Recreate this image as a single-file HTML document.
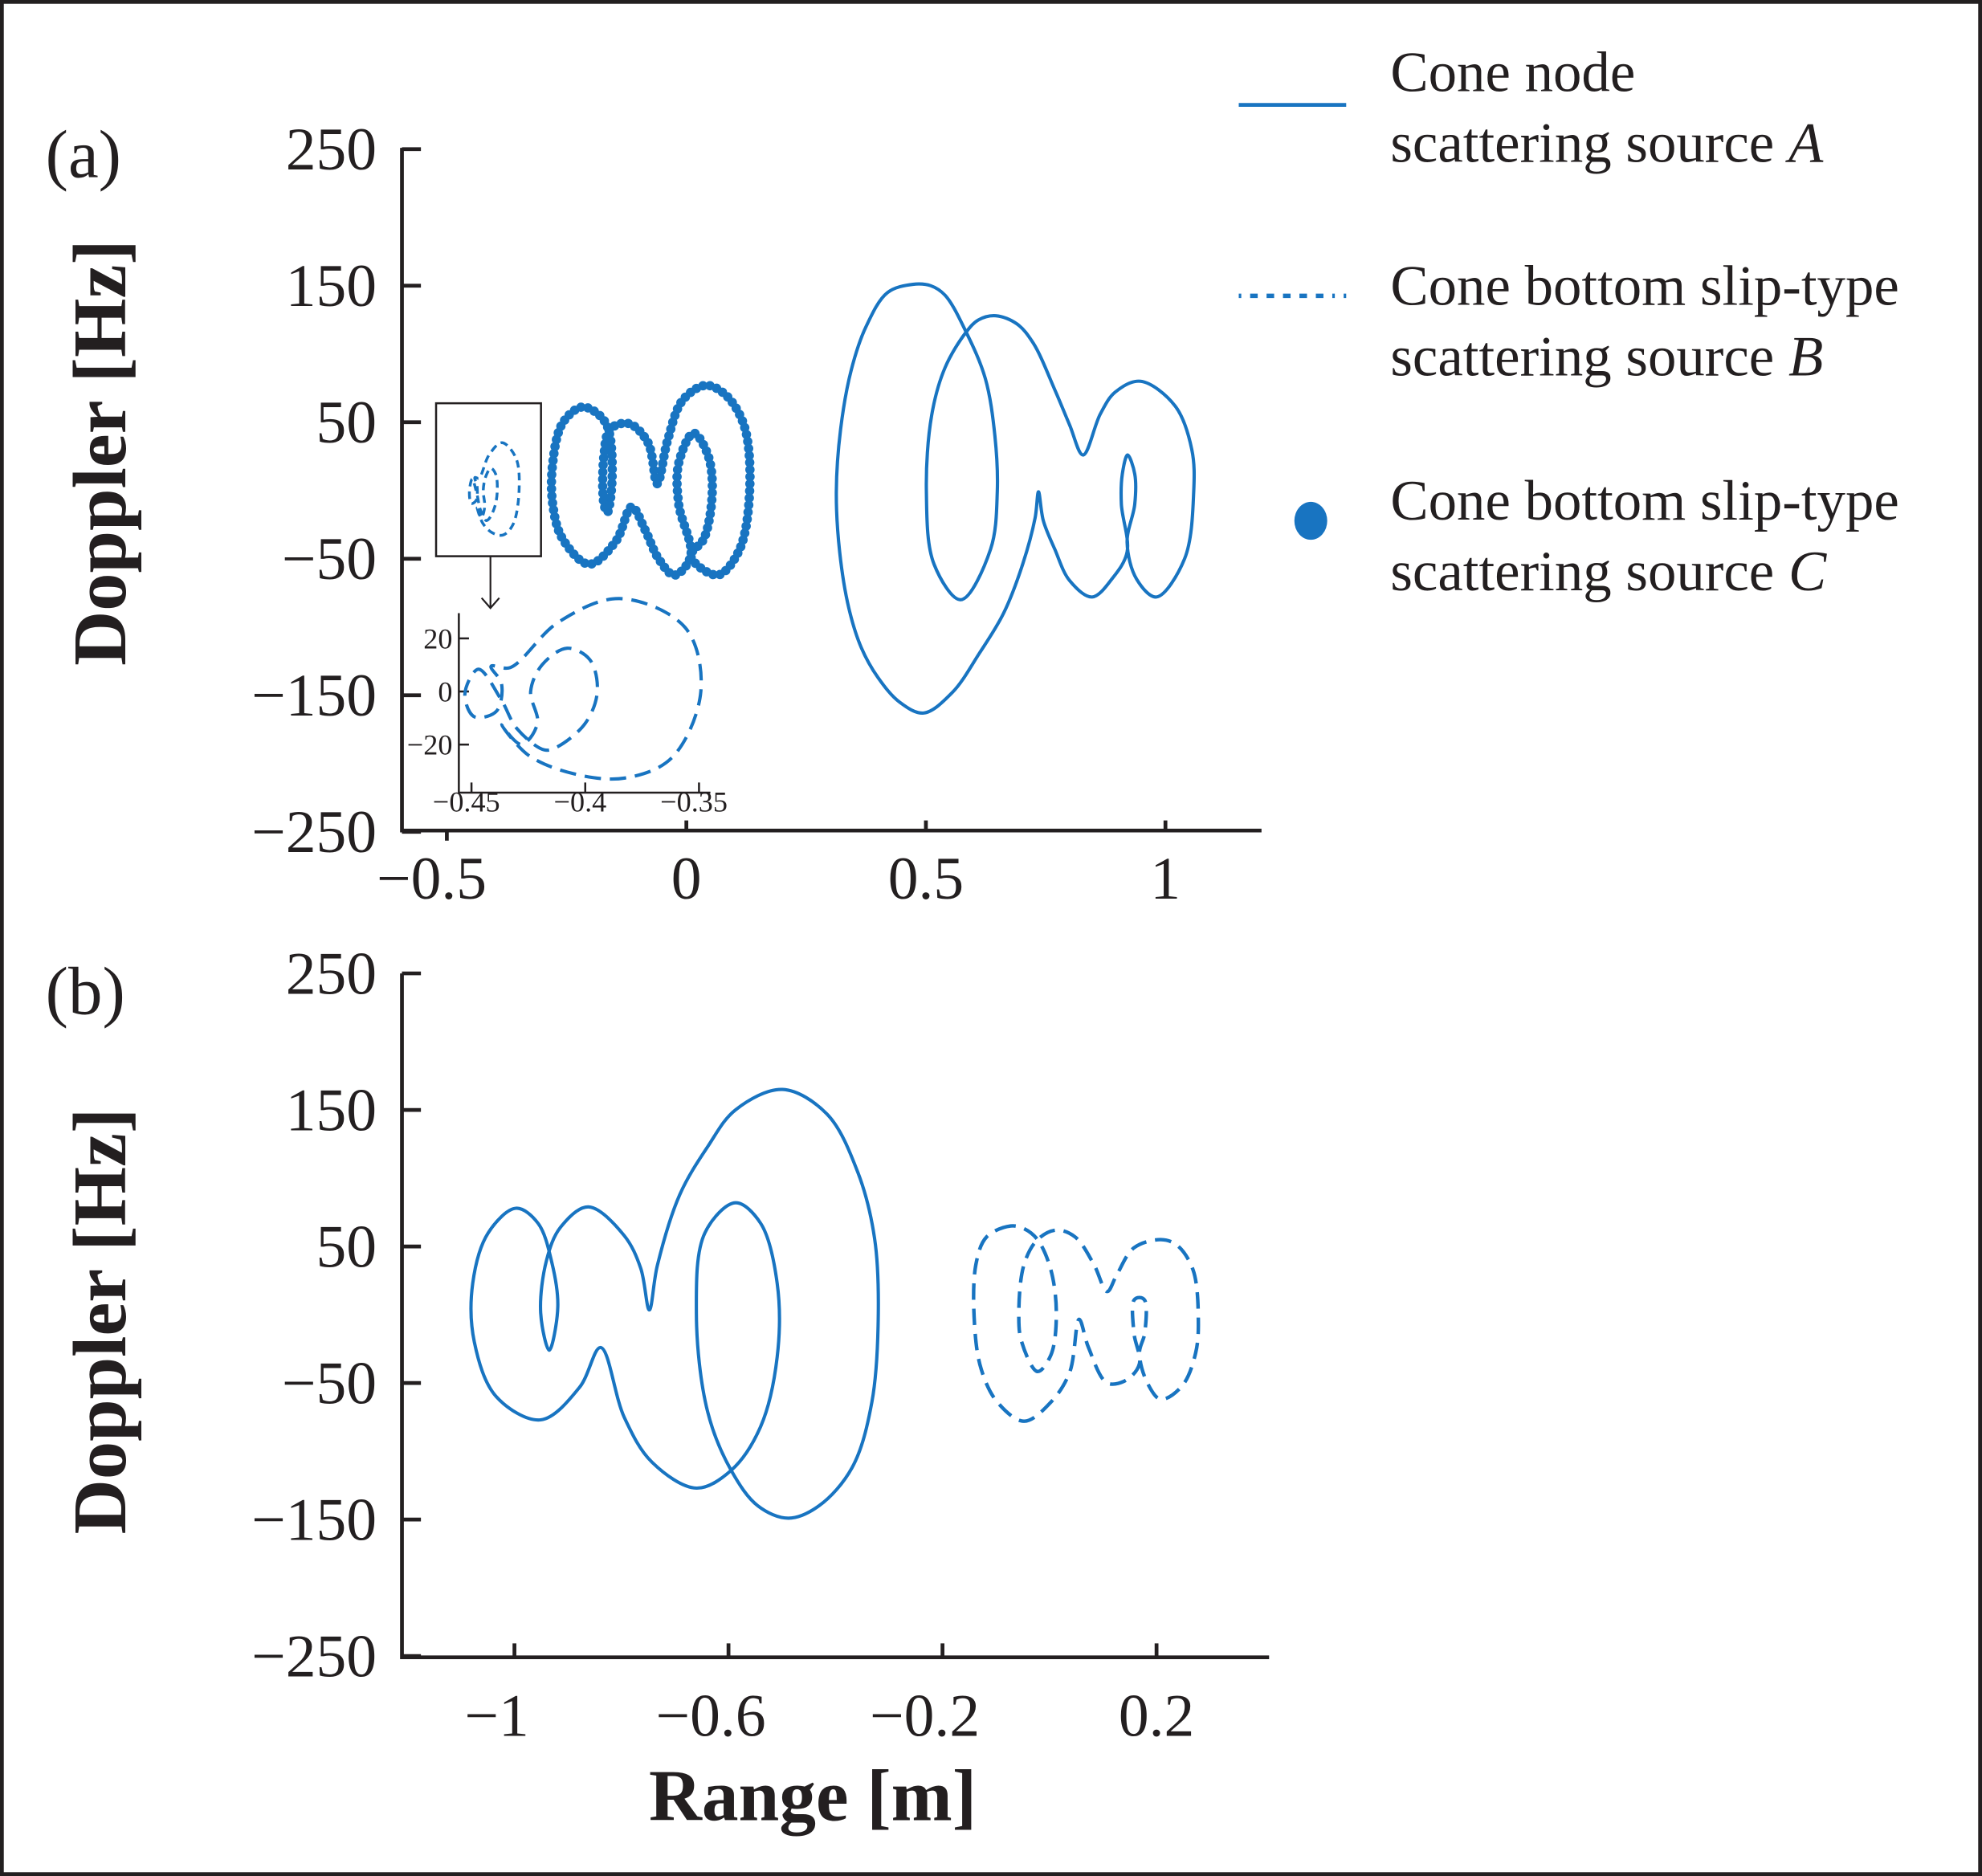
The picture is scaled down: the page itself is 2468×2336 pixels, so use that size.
<!DOCTYPE html>
<html><head><meta charset="utf-8"><style>
html,body{margin:0;padding:0;background:#fff}
svg{display:block}
text{font-family:"Liberation Serif",serif;fill:#231f20}
</style></head><body>
<svg id="chart" xmlns="http://www.w3.org/2000/svg" width="2468" height="2336" viewBox="0 0 1568 1484" preserveAspectRatio="none">
<rect x="1.5" y="1.5" width="1565" height="1481" fill="#fff" stroke="#231f20" stroke-width="3"/>
<g id="axes"></g>
<g id="marks"></g>
<g>
  <line x1="980" y1="83" x2="1065" y2="83" stroke="#1874c1" stroke-width="3"/>
  <text x="1100" y="72" font-size="45">Cone node</text>
  <text x="1100" y="128" font-size="45">scattering source <tspan font-style="italic">A</tspan></text>
  <line x1="980" y1="234" x2="1065" y2="234" stroke="#1874c1" stroke-width="3.5" stroke-dasharray="2 7 6 7 6 7 6 7 6 7 6 7"/>
  <text x="1100" y="241" font-size="45">Cone bottom slip-type</text>
  <text x="1100" y="297" font-size="45">scattering source <tspan font-style="italic">B</tspan></text>
  <ellipse cx="1037" cy="412" rx="13" ry="15" fill="#1874c1"/>
  <text x="1100" y="411" font-size="45">Cone bottom slip-type</text>
  <text x="1100" y="467" font-size="45">scattering source <tspan font-style="italic">C</tspan></text>
</g>
</svg>
<script>
// ---- data (range [m], doppler [Hz]) ----
const yTicks = [250, 150, 50, -50, -150, -250];
const xTicksA = [-0.5, 0, 0.5, 1];
const xTickLabelsA = ["\u22120.5", "0", "0.5", "1"];
const xTicksB = [-1, -0.6, -0.2, 0.2];
const xTickLabelsB = ["\u22121", "\u22120.6", "\u22120.2", "0.2"];
const insetXTicks = [-0.45, -0.4, -0.35];
const insetXTickLabels = ["\u22120.45", "\u22120.4", "\u22120.35"];
const insetYTicks = [20, 0, -20];
const insetYTickLabels = ["20", "0", "\u221220"];

const aRangeA = [0.473,0.420,0.375,0.344,0.322,0.313,0.320,0.339,0.365,0.400,0.445,0.495,0.555,0.612,0.662,0.702,0.728,0.735,0.745,0.769,0.800,0.847,0.890,0.920,0.908,0.910,0.921,0.936,0.936,0.920,0.940,0.981,1.040,1.059,1.055,1.020,0.948,0.895,0.864,0.828,0.800,0.770,0.724,0.690,0.646,0.610,0.584,0.540,0.512,0.501,0.517,0.573,0.635,0.649,0.644,0.624,0.584,0.540,0.510];
const aDopplerA = [151,145,120,88,45,-1,-45,-86,-115,-137,-155,-163,-148,-119,-90,-54,-20,-1,-22,-43,-66,-78,-64,-45,-10,12,26,12,-10,-38,-65,-78,-50,-1,30,62,80,72,56,26,48,73,108,122,128,125,116,90,55,-1,-54,-80,-43,-1,40,82,116,143,150];

const aRangeB = [-0.4368,-0.425,-0.405,-0.3826,-0.362,-0.3492,-0.356,-0.3849,-0.412,-0.433,-0.4414,-0.4368,-0.439,-0.4488,-0.4529,-0.447,-0.437,-0.430,-0.418,-0.4126,-0.400,-0.3947,-0.398,-0.408,-0.419,-0.424,-0.421,-0.428];
const aDopplerB = [-12.6,-24,-31,-32.6,-25,0,24,35,26,9,9.5,3,-7.4,-9.5,-1,8.4,-3,-14,-22,-21,-12,0,12,16.3,10,0,-12,-20];

const aRangeC = [-0.220,-0.259,-0.279,-0.279,-0.259,-0.203,-0.147,-0.114,-0.086,-0.058,-0.025,0.009,-0.016,-0.016,0.015,0.045,0.054,0.037,0.009,0.065,0.110,0.132,0.121,0.082,0.040,-0.008,-0.039,-0.061,-0.080,-0.120,-0.159,-0.172,-0.172,-0.165,-0.155,-0.165,-0.192];
const aDopplerC = [61,49,20,-10,-35,-54,-37,-12,-29,-50,-62,-48,-10,20,42,26,-1,-35,-48,-62,-44,-1,47,70,77,66,37,5,35,49,45,26,-10,-16,9,47,58];

const bRangeA = [-0.862,-0.795,-0.764,-0.748,-0.733,-0.691,-0.639,-0.587,-0.499,-0.416,-0.358,-0.327,-0.320,-0.332,-0.369,-0.431,-0.488,-0.545,-0.595,-0.639,-0.660,-0.644,-0.587,-0.540,-0.509,-0.509,-0.540,-0.595,-0.660,-0.743,-0.795,-0.839,-0.878,-0.951,-1.034,-1.075,-1.078,-1.049,-0.997,-0.956,-0.930,-0.919,-0.935,-0.951,-0.940,-0.914];
const bDopplerA = [79,58,34,3.5,36,88,123,150,165,147,104,56,1,-64,-112,-140,-149,-140,-114,-71,1,60,82,67,23,-31,-82,-114,-127,-108,-75,-24,-53,-77,-60,-20,23,60,78,67,38,5.7,-26,1.4,40,64];

const bRangeB = [-0.0725,-0.1176,-0.1375,-0.1401,-0.1276,-0.0976,-0.0475,0.0026,0.0378,0.0553,0.0728,0.1077,0.1429,0.1680,0.1578,0.1578,0.1680,0.1779,0.1779,0.1680,0.1829,0.2079,0.2481,0.2731,0.2781,0.2681,0.2379,0.2079,0.1578,0.1254,0.1077,0.0827,0.0477,0.0127,-0.0224,-0.0475,-0.0574,-0.0524,-0.0224,0.0026,0.0127,0.0026,-0.0224,-0.0475];
const bDopplerB = [65,57,37,-7.5,-40,-64,-78,-64,-42,-3.4,-24,-50,-48,-36,-13.5,10.6,12.6,10.6,-13.5,-28,-50,-62,-52,-28,-3.4,33,51,55,49,29,17,37,57,62,55,37,0.5,-19.5,-41.6,-29.5,0.5,32.7,55,63];

// ---- axis functions ----
const xA = v => 543 + v * 379;
const yA = v => 388 - v * 1.08;
const xI = v => 373 + (v + 0.45) * 1800;
const yI = v => 547 - v * 2.1;
const xB = v => 830.3 + v * 423.3;
const yB = v => 1040 - v * 1.08;

const NS = "http://www.w3.org/2000/svg";
const axesG = document.getElementById('axes');
const marksG = document.getElementById('marks');
const BLUE = "#1874c1", INK = "#231f20";

function mk(tag, attrs, parent) {
  const e = document.createElementNS(NS, tag);
  for (const k in attrs) e.setAttribute(k, attrs[k]);
  parent.appendChild(e);
  return e;
}
function txt(str, x, y, size, anchor, parent) {
  const t = mk('text', {x: x, y: y, 'font-size': size, 'text-anchor': anchor}, parent);
  t.textContent = str;
  return t;
}
// centripetal Catmull-Rom (no overshoot)
function closedSpline(xs, ys, fx, fy) {
  const n = xs.length;
  const P = xs.map((v, i) => [fx(v), fy(ys[i])]);
  const dist = (a, b) => Math.max(1e-3, Math.hypot(a[0] - b[0], a[1] - b[1]));
  let d = "M" + P[0][0].toFixed(2) + "," + P[0][1].toFixed(2);
  for (let i = 0; i < n; i++) {
    const p0 = P[(i - 1 + n) % n], p1 = P[i], p2 = P[(i + 1) % n], p3 = P[(i + 2) % n];
    const d1 = dist(p0, p1), d2 = dist(p1, p2), d3 = dist(p2, p3);
    const s1 = Math.sqrt(d1), s2 = Math.sqrt(d2), s3 = Math.sqrt(d3);
    const c1 = [0, 1].map(k => (d1 * p2[k] - d2 * p0[k] + (2 * d1 + 3 * s1 * s2 + d2) * p1[k]) / (3 * s1 * (s1 + s2)));
    const c2 = [0, 1].map(k => (d3 * p1[k] - d2 * p3[k] + (2 * d3 + 3 * s3 * s2 + d2) * p2[k]) / (3 * s3 * (s3 + s2)));
    d += "C" + c1.map(v => v.toFixed(2)).join(",") + " " + c2.map(v => v.toFixed(2)).join(",") + " " + p2[0].toFixed(2) + "," + p2[1].toFixed(2);
  }
  return d + "Z";
}

// ---- panel (a) axes ----
const axA = mk('g', {}, axesG);


mk('path', {d: "M318,117 L318,657 L998,657", fill: "none", stroke: INK, 'stroke-width': 3}, axA);
yTicks.forEach(v => {
  mk('line', {x1: 318, y1: yA(v), x2: 333, y2: yA(v), stroke: INK, 'stroke-width': 3}, axA);
  const t = txt(String(v).replace('-', '\u2212'), 298, yA(v) + 16, 48, 'end', axA);
  
  
});
xTicksA.forEach((v, i) => {
  const down = v === -0.5;
  mk('line', {x1: xA(v), y1: 657, x2: xA(v), y2: down ? 665 : 649, stroke: INK, 'stroke-width': 3}, axA);
  const t = txt(xTickLabelsA[i], xA(v) - (v < 0 ? 12 : 0), 711, 48, 'middle', axA);
  
  
});
const pa = txt("(a)", 36, 140, 54, 'start', axA);


const yta = txt("Doppler [Hz]", 0, 0, 60, 'middle', axA);
yta.setAttribute('transform', 'translate(99,358) rotate(-90)');
yta.setAttribute('font-weight', 'bold');



// zoom box + arrow
const box = mk('rect', {x: 345, y: 319, width: 83, height: 121, fill: "none", stroke: INK, 'stroke-width': 1.6}, axA);


const arr = mk('path', {d: "M388,440 L388,481 M381,473 L388,481 L395,473", fill: "none", stroke: INK, 'stroke-width': 1.4}, axA);



// inset axes
const axI = mk('g', {}, axesG);


mk('path', {d: "M363,485 L363,627 L562,627", fill: "none", stroke: INK, 'stroke-width': 1.6}, axI);
insetYTicks.forEach((v, i) => {
  mk('line', {x1: 363, y1: yI(v), x2: 371, y2: yI(v), stroke: INK, 'stroke-width': 1.6}, axI);
  const t = txt(insetYTickLabels[i], 358, yI(v) + 8, 23, 'end', axI);
  
  
});
insetXTicks.forEach((v, i) => {
  mk('line', {x1: xI(v), y1: 627, x2: xI(v), y2: 619, stroke: INK, 'stroke-width': 1.6}, axI);
  const t = txt(insetXTickLabels[i], xI(v) - 4, 642, 23, 'middle', axI);
  
  
});

// ---- panel (b) axes ----
const axB = mk('g', {}, axesG);


mk('path', {d: "M318,770 L318,1311 L1004,1311", fill: "none", stroke: INK, 'stroke-width': 3}, axB);
yTicks.forEach(v => {
  mk('line', {x1: 318, y1: yB(v), x2: 333, y2: yB(v), stroke: INK, 'stroke-width': 3}, axB);
  const t = txt(String(v).replace('-', '\u2212'), 298, yB(v) + 16, 48, 'end', axB);
  
  
});
xTicksB.forEach((v, i) => {
  mk('line', {x1: xB(v), y1: 1311, x2: xB(v), y2: 1300, stroke: INK, 'stroke-width': 3}, axB);
  const t = txt(xTickLabelsB[i], xB(v) - (v < 0 ? 14 : 0), 1373, 48, 'middle', axB);
  
  
});
const pb = txt("(b)", 36, 802, 54, 'start', axB);


const ytb = txt("Doppler [Hz]", 0, 0, 60, 'middle', axB);
ytb.setAttribute('transform', 'translate(99,1045) rotate(-90)');
ytb.setAttribute('font-weight', 'bold');


const xtb = txt("Range [m]", 643, 1440, 58, 'middle', axB);
xtb.setAttribute('font-weight', 'bold');



// ---- series ----
const lineA = mk('path', {d: closedSpline(aRangeA, aDopplerA, xA, yA), fill: "none", stroke: BLUE, 'stroke-width': 2.6, 'stroke-linejoin': 'round'}, marksG);



const miniB = mk('path', {d: closedSpline(aRangeB, aDopplerB, xA, yA), fill: "none", stroke: BLUE, 'stroke-width': 2.2, 'stroke-dasharray': '6 4'}, marksG);



const insetB = mk('path', {d: closedSpline(aRangeB, aDopplerB, xI, yI), fill: "none", stroke: BLUE, 'stroke-width': 2.6, 'stroke-dasharray': '13 7'}, marksG);



const guideC = mk('path', {d: closedSpline(aRangeC, aDopplerC, xA, yA), fill: "none", stroke: "none"}, marksG);
const dotsG = mk('g', {fill: BLUE}, marksG);


const L = guideC.getTotalLength();
const nDots = Math.round(L / 5.6);
for (let i = 0; i < nDots; i++) {
  const p = guideC.getPointAtLength(i * L / nDots);
  const c = mk('circle', {cx: p.x.toFixed(2), cy: p.y.toFixed(2), r: 3.7}, dotsG);
  
  
}

const lineBA = mk('path', {d: closedSpline(bRangeA, bDopplerA, xB, yB), fill: "none", stroke: BLUE, 'stroke-width': 2.6, 'stroke-linejoin': 'round'}, marksG);



const lineBB = mk('path', {d: closedSpline(bRangeB, bDopplerB, xB, yB), fill: "none", stroke: BLUE, 'stroke-width': 2.8, 'stroke-dasharray': '13 7'}, marksG);


</script>
</body></html>
